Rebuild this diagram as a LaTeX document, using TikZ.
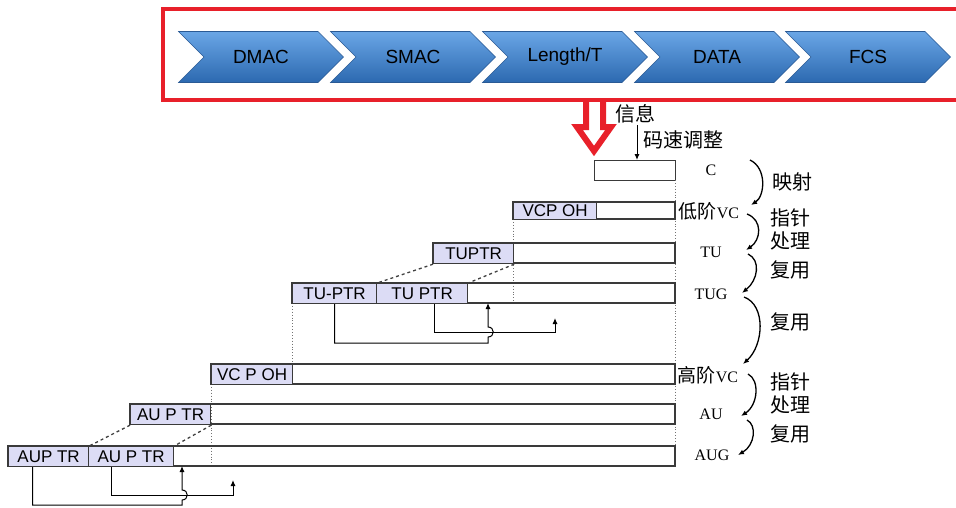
\documentclass[tikz,border=0pt]{standalone}
\usepackage{fontspec}
\setmainfont{Liberation Sans}
\newfontfamily\cjk{Noto Sans CJK SC}
\newfontfamily\lblserif{Liberation Serif}
\usetikzlibrary{shapes.symbols,arrows.meta}
\definecolor{frameRed}{HTML}{E8202A}
\definecolor{chevTop}{HTML}{6AA6E6}
\definecolor{chevBot}{HTML}{2C69B0}
\definecolor{chevEdge}{HTML}{2A5A95}
\definecolor{ptrFill}{HTML}{DCDCF5}
\definecolor{rowGray}{HTML}{3A3A3A}

\begin{document}
\begin{tikzpicture}[x=1pt,y=-1pt,
  chev/.style={signal,signal from=west,signal to=east,signal pointer angle=90,
    minimum width=165,minimum height=51,inner sep=0pt,
    top color=chevTop,bottom color=chevBot,draw=chevEdge,line width=0.6pt,
    font=\fontsize{19}{21}\selectfont},
  ptrBox/.style={draw=rowGray,fill=ptrFill,line width=1.2pt,minimum height=20,
    inner sep=0pt,anchor=north west,font=\fontsize{17}{19}\selectfont},
  rowLine/.style={draw=rowGray,line width=1.2pt},
  guide/.style={draw=black!55,dotted,line width=0.9pt},
  slant/.style={draw=black!75,dashed,line width=1.3pt},
  link/.style={draw=black,line width=1pt,-{Latex[length=6pt,width=5pt]}},
  stage/.style={font=\lblserif\fontsize{16}{18}\selectfont},
  note/.style={font=\cjk\fontsize{20}{23}\selectfont},
  flow/.style={draw=black,line width=1.3pt,-{Latex[length=6pt,width=5pt]}}
]
  \useasboundingbox (0,0) rectangle (956,507);

  % frame with the Ethernet fields
  \draw[frameRed,line width=3.5pt] (163,9) -- (956,9);
  \draw[frameRed,line width=3.5pt] (163,100) -- (956,100);
  \draw[frameRed,line width=3.5pt] (163,7.25) -- (163,101.75);
  \node[chev] (dmac) at (261,57) {DMAC};
  \node[chev] (smac) at (413,57) {SMAC};
  \node[chev] (lenT) at (565,57) {Length/T};
  \node[chev] (data) at (717,57) {DATA};
  \node[chev] (fcs) at (868,57) {FCS};

  % red arrow into the container
  \draw[frameRed,line width=6pt,fill=white,line join=miter]
    (586,102) -- (586,127) -- (577,127) -- (594,151) -- (611,127) -- (603,127) -- (603,102);

  \node[note,anchor=west] (info) at (612,114) {信息};
  \node[note,anchor=west] (rateAdj) at (640,140) {码速调整};
  \node[draw=rowGray,line width=1.2pt,minimum width=81,minimum height=20,
    inner sep=0pt,anchor=north west] (cBox) at (594,160) {};
  \coordinate (rateIn) at (637,125);
  \draw[link] (rateIn) -- (rateIn |- cBox.north);

  % guide lines
  \draw[guide] (675,180) -- (675,466);
  \draw[guide] (513,219) -- (513,303);
  \draw[guide] (292,303) -- (292,364);
  \draw[guide] (211,384) -- (211,466);

  % rows
  \draw[rowLine] (513,202) rectangle (675,219);
  \draw[rowLine] (433,243) rectangle (675,263);
  \draw[rowLine] (292,283) rectangle (675,303);
  \draw[rowLine] (211,364) rectangle (675,384);
  \draw[rowLine] (130,404) rectangle (675,424);
  \draw[rowLine] (8,446) rectangle (675,466);

  % pointer and overhead boxes
  \node[ptrBox,minimum width=83,minimum height=17] (lvcPoh) at (513,202) {VCP OH};
  \node[ptrBox,minimum width=80] (tuPtr) at (433,243) {TUPTR};
  \node[ptrBox,minimum width=84] (tugPtrA) at (292,283) {TU-PTR};
  \node[ptrBox,minimum width=91] (tugPtrB) at (376,283) {TU PTR};
  \node[ptrBox,minimum width=81] (hvcPoh) at (211,364) {VC P OH};
  \node[ptrBox,minimum width=80] (auPtr) at (130,404) {AU P TR};
  \node[ptrBox,minimum width=80] (augPtrA) at (8,446) {AUP TR};
  \node[ptrBox,minimum width=85] (augPtrB) at (88,446) {AU P TR};

  \draw[slant] (tuPtr.south west) -- (tugPtrA.north east);
  \draw[slant] (tuPtr.south east) -- (tugPtrB.north east);
  \draw[slant] (auPtr.south west) -- (augPtrA.north east);
  \draw[slant] (auPtr.south east) -- (augPtrB.north east);

  % pointer links
  \coordinate (tugIn) at (488,303);
  \coordinate (tuEnd) at (555,318);
  \draw[link] (tugPtrA.south) |- (488,343) -- (488,337)
    .. controls (495,337) and (495,327) .. (488,327) -- (tugIn);
  \draw[link] ([xshift=12]tugPtrB.south) |- (555,332) -- (tuEnd);
  \coordinate (augIn) at (182,466);
  \coordinate (auEnd) at (233,480);
  \draw[link] ([xshift=-16]augPtrA.south) |- (182,505) -- (182,500)
    .. controls (189,500) and (189,490) .. (182,490) -- (augIn);
  \draw[link] ([xshift=-20]augPtrB.south) |- (233,495) -- (auEnd);

  % stage names
  \node[stage] (lC) at (711,170) {C};
  \node[stage] (lLvc) at (709,211) {{\cjk\fontsize{19}{21}\selectfont 低阶}VC};
  \node[stage] (lTu) at (711,252) {TU};
  \node[stage] (lTug) at (711,294) {TUG};
  \node[stage] (lHvc) at (708,375) {{\cjk\fontsize{19}{21}\selectfont 高阶}VC};
  \node[stage] (lAu) at (711,414) {AU};
  \node[stage] (lAug) at (712,455) {AUG};

  % steps between stages
  \coordinate (cOut) at (750,160);
  \coordinate (lvcIn) at (751,205);
  \coordinate (lvcOut) at (747,214);
  \coordinate (tuIn) at (746,250);
  \coordinate (tuOut) at (748,254);
  \coordinate (tugIn2) at (742,293);
  \coordinate (tugOut) at (744,297);
  \coordinate (hvcIn) at (743,364);
  \coordinate (hvcOut) at (748,374);
  \coordinate (auIn) at (741,416);
  \coordinate (auOut) at (747,420);
  \coordinate (augIn2) at (738,455);
  \draw[flow] (cOut) .. controls (767,168) and (765,196) .. (lvcIn);
  \draw[flow] (lvcOut) .. controls (763,220) and (761,240) .. (tuIn);
  \draw[flow] (tuOut) .. controls (761,260) and (758,280) .. (tugIn2);
  \draw[flow] (tugOut) .. controls (766,305) and (764,345) .. (hvcIn);
  \draw[flow] (hvcOut) .. controls (760,380) and (758,405) .. (auIn);
  \draw[flow] (auOut) .. controls (757,425) and (755,445) .. (augIn2);

  \node[note] (nMap) at (792,182) {映射};
  \node[note,align=left] (nPtrA) at (790,229) {指针\\处理};
  \node[note] (nMuxA) at (790,270) {复用};
  \node[note] (nMuxB) at (790,322) {复用};
  \node[note,align=left] (nPtrB) at (790,393) {指针\\处理};
  \node[note] (nMuxC) at (790,434) {复用};
\end{tikzpicture}
\end{document}
